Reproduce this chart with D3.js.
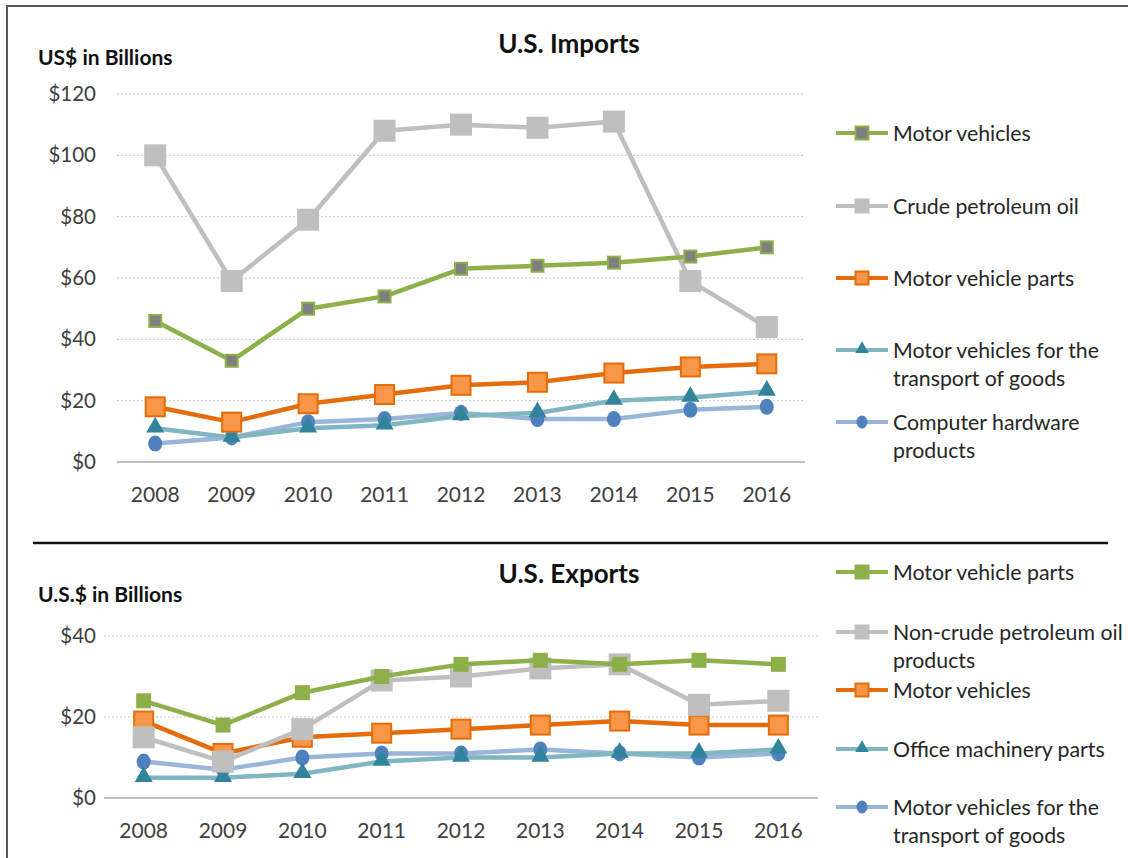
<!DOCTYPE html>
<html>
<head>
<meta charset="utf-8">
<script src="https://cdn.jsdelivr.net/npm/d3@7"></script>
<style>
  body { margin: 0; background: #fff; }
  svg { display: block; font-family: Lato, "Open Sans", sans-serif; }
</style>
</head>
<body>
<svg id="chart" width="1128" height="858"></svg>
<script>
// years shared by both panels
const years = ['2008', '2009', '2010', '2011', '2012', '2013', '2014', '2015', '2016'];

// imports, US$ billions
const impMotorVehicles = [46, 33, 50, 54, 63, 64, 65, 67, 70];
const impCrudeOil = [100, 59, 79, 108, 110, 109, 111, 59, 44];
const impVehicleParts = [18, 13, 19, 22, 25, 26, 29, 31, 32];
const impGoodsTransport = [11, 8, 11, 12, 15, 16, 20, 21, 23];
const impComputerHw = [6, 8, 13, 14, 16, 14, 14, 17, 18];
const impTicks = [0, 20, 40, 60, 80, 100, 120];

// exports, US$ billions
const expVehicleParts = [24, 18, 26, 30, 33, 34, 33, 34, 33];
const expNonCrudeOil = [15, 9, 17, 29, 30, 32, 33, 23, 24];
const expMotorVehicles = [19, 11, 15, 16, 17, 18, 19, 18, 18];
const expOfficeParts = [5, 5, 6, 9, 10, 10, 11, 11, 12];
const expGoodsTransport = [9, 7, 10, 11, 11, 12, 11, 10, 11];
const expTicks = [0, 20, 40];

const svg = d3.select('#chart');

// styles per look
const sGreenDark = {line: '#8db04a', fill: '#7f7f7f', stroke: '#8db04a', shape: 'square', size: 12};
const sGreen = {line: '#8db04a', fill: '#8db04a', stroke: '#8db04a', shape: 'square', size: 13};
const sGray = {line: '#bfbfbf', fill: '#bfbfbf', stroke: '#bfbfbf', shape: 'square', size: 20};
const sOrange = {line: '#e46c0a', fill: '#f79646', stroke: '#e46c0a', shape: 'square', size: 19};
const sTeal = {line: '#7fb6c1', fill: '#31849b', stroke: '#31849b', shape: 'triangle', size: 16};
const sBlue = {line: '#9ab5da', fill: '#4f81bd', stroke: '#4f81bd', shape: 'circle', size: 15};

// outer frame and divider
svg.append('rect')
    .attr('x', 7).attr('y', 6)
    .attr('width', 1140).attr('height', 880)
    .attr('fill', 'none').attr('stroke', '#595959').attr('stroke-width', 2);
svg.append('line')
    .attr('x1', 33).attr('x2', 1108).attr('y1', 543).attr('y2', 543)
    .attr('stroke', '#111').attr('stroke-width', 2.5);

function drawMarker(g, x, y, st) {
    let s = st.size;
    if (st.shape === 'square') {
        g.append('rect')
            .attr('x', x - s / 2).attr('y', y - s / 2)
            .attr('width', s).attr('height', s)
            .attr('fill', st.fill).attr('stroke', st.stroke).attr('stroke-width', 2);
    } else if (st.shape === 'triangle') {
        g.append('path')
            .attr('d', d3.symbol().type(d3.symbolTriangle).size(s * s * 0.55)())
            .attr('transform', 'translate(' + x + ',' + (y - 1) + ')')
            .attr('fill', st.fill);
    } else {
        g.append('ellipse')
            .attr('cx', x).attr('cy', y).attr('rx', s / 2 - 0.5).attr('ry', s / 2 + 0.5)
            .attr('fill', st.fill);
    }
}

function panel(opts) {
    const g = svg.append('g');
    const x = d3.scaleBand().domain(years).range(opts.xr);
    const y = d3.scaleLinear().domain([0, opts.max]).range(opts.yr);

    // gridlines
    g.selectAll('.grid').data(opts.ticks.slice(1)).join('line')
        .attr('x1', opts.xr[0]).attr('x2', opts.xr[1])
        .attr('y1', d => y(d)).attr('y2', d => y(d))
        .attr('stroke', '#c8c8c8').attr('stroke-dasharray', '2,2').attr('stroke-width', 1);

    // baseline
    g.append('line')
        .attr('x1', opts.xr[0]).attr('x2', opts.xr[1])
        .attr('y1', y(0)).attr('y2', y(0))
        .attr('stroke', '#bfbfbf').attr('stroke-width', 2);

    // y tick labels
    g.selectAll('.ylab').data(opts.ticks).join('text')
        .attr('x', opts.ylabX).attr('y', d => y(d) + 7)
        .attr('text-anchor', 'end')
        .attr('font-size', 20.5).attr('fill', '#404040')
        .text(d => '$' + d);

    // x tick labels
    g.selectAll('.xlab').data(years).join('text')
        .attr('x', d => x(d) + x.bandwidth() / 2).attr('y', y(0) + 40)
        .attr('text-anchor', 'middle')
        .attr('font-size', 21).attr('fill', '#404040')
        .text(d => d);

    // titles
    g.append('text')
        .attr('x', opts.titleX).attr('y', opts.titleY)
        .attr('text-anchor', 'middle')
        .attr('font-size', 26).attr('font-weight', 'bold').attr('fill', '#111')
        .text(opts.title);
    g.append('text')
        .attr('x', 38).attr('y', opts.unitY)
        .attr('font-size', 21).attr('font-weight', 'bold').attr('fill', '#111')
        .text(opts.unit);

    const line = d3.line()
        .x((d, i) => x(years[i]) + x.bandwidth() / 2)
        .y(d => y(d));

    // draw series back to front (first in legend on top)
    opts.series.slice().reverse().forEach(function(s) {
        const sg = g.append('g');
        sg.append('path')
            .attr('d', line(s.values))
            .attr('fill', 'none').attr('stroke', s.style.line)
            .attr('stroke-width', 4.5).attr('stroke-linejoin', 'round');
        s.values.forEach(function(v, i) {
            drawMarker(sg, x(years[i]) + x.bandwidth() / 2, y(v), s.style);
        });
    });

    // legend
    opts.series.forEach(function(s, i) {
        const ly = opts.legendY[i];
        g.append('line')
            .attr('x1', 836).attr('x2', 888).attr('y1', ly).attr('y2', ly)
            .attr('stroke', s.style.line).attr('stroke-width', 4);
        const st = Object.assign({}, s.style, {size: s.style.shape === 'square' ? 13 : 12});
        drawMarker(g, 862, ly, st);
        const t = g.append('text')
            .attr('x', 893).attr('y', ly + 8)
            .attr('font-size', 21.3).attr('fill', '#262626');
        s.label.forEach(function(part, j) {
            t.append('tspan').attr('x', 893).attr('dy', j === 0 ? 0 : 28).text(part);
        });
    });
}

panel({
    xr: [117, 805], yr: [462, 94], max: 120, ticks: impTicks, ylabX: 96,
    title: 'U.S. Imports', titleX: 569, titleY: 53,
    unit: 'US$ in Billions', unitY: 65,
    legendY: [133, 206, 278, 350, 422],
    series: [
        {label: ['Motor vehicles'], values: impMotorVehicles, style: sGreenDark},
        {label: ['Crude petroleum oil'], values: impCrudeOil, style: sGray},
        {label: ['Motor vehicle parts'], values: impVehicleParts, style: sOrange},
        {label: ['Motor vehicles for the', 'transport of goods'], values: impGoodsTransport, style: sTeal},
        {label: ['Computer hardware', 'products'], values: impComputerHw, style: sBlue}
    ]
});

panel({
    xr: [104, 818], yr: [798, 636], max: 40, ticks: expTicks, ylabX: 96,
    title: 'U.S. Exports', titleX: 569, titleY: 583,
    unit: 'U.S.$ in Billions', unitY: 602,
    legendY: [572, 632, 690, 749, 807],
    series: [
        {label: ['Motor vehicle parts'], values: expVehicleParts, style: sGreen},
        {label: ['Non-crude petroleum oil', 'products'], values: expNonCrudeOil, style: sGray},
        {label: ['Motor vehicles'], values: expMotorVehicles, style: sOrange},
        {label: ['Office machinery parts'], values: expOfficeParts, style: sTeal},
        {label: ['Motor vehicles for the', 'transport of goods'], values: expGoodsTransport, style: sBlue}
    ]
});
</script>
</body>
</html>
